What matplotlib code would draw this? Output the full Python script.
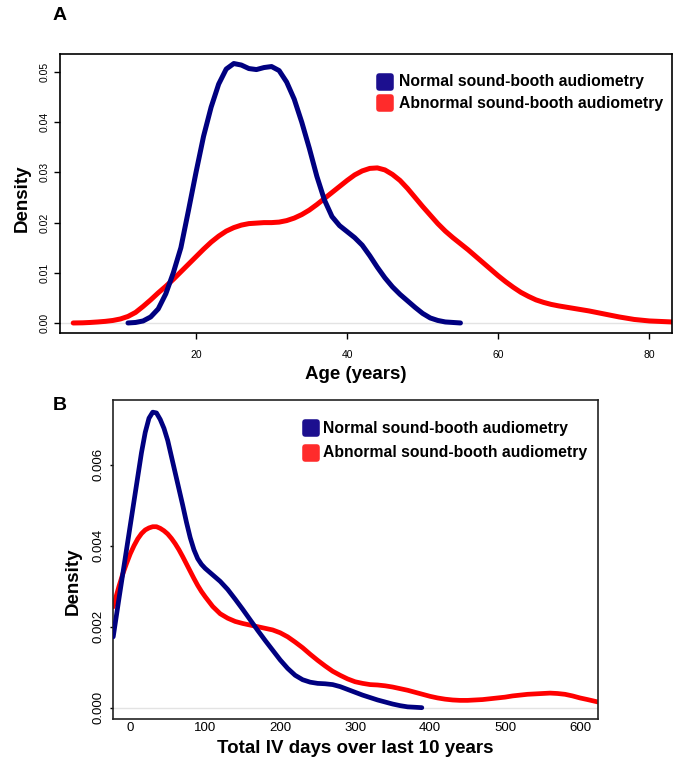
import matplotlib
matplotlib.use("Agg")
import matplotlib.pyplot as plt
from matplotlib.markers import MarkerStyle

plt.rcParams['font.family'] = ['Liberation Sans', 'DejaVu Sans']

# panel A: age density
age_normal_x = [11, 12, 13, 14, 15, 16, 17, 18, 19, 20, 21, 22, 23, 24, 25, 26, 27, 28,
                29, 30, 31, 32, 33, 34, 35, 36, 37, 38, 39, 40, 41, 42, 43, 44, 45, 46,
                47, 48, 49, 50, 51, 52, 53, 54, 55]
age_normal_y = [0.0, 0.0001, 0.0004, 0.0012, 0.0028, 0.0058, 0.0100, 0.0150, 0.0224,
                0.0300, 0.0372, 0.0430, 0.0476, 0.0506, 0.0517, 0.0514, 0.0507, 0.0505,
                0.0509, 0.0511, 0.0503, 0.0480, 0.0446, 0.0400, 0.0348, 0.0292, 0.0245,
                0.0212, 0.0194, 0.0182, 0.0170, 0.0155, 0.0134, 0.0111, 0.0090, 0.0072,
                0.0057, 0.0044, 0.0031, 0.0019, 0.0010, 0.0005, 0.0002, 0.0001, 0.0]

age_abnormal_x = [3.75, 5, 6, 7, 8, 9, 10, 11, 12, 13, 14, 15, 16, 17, 18, 19, 20, 21,
                  22, 23, 24, 25, 26, 27, 28, 29, 30, 31, 32, 33, 34, 35, 36, 37, 38,
                  39, 40, 41, 42, 43, 44, 45, 46, 47, 48, 49, 50, 51, 52, 53, 54, 55,
                  56, 57, 58, 59, 60, 61, 62, 63, 64, 65, 66, 67, 68, 70, 72, 74, 76,
                  78, 80, 83]
age_abnormal_y = [0.0, 0.00003, 0.0001, 0.0002, 0.00032, 0.0005, 0.0008, 0.0013, 0.0021,
                  0.0033, 0.0046, 0.0060, 0.0073, 0.0087, 0.0102, 0.0117, 0.0132, 0.0147,
                  0.0161, 0.0173, 0.0183, 0.0190, 0.0195, 0.0198, 0.0199, 0.0200, 0.0200,
                  0.0201, 0.0204, 0.0209, 0.0216, 0.0225, 0.0236, 0.0248, 0.0260, 0.0272,
                  0.0284, 0.0295, 0.0303, 0.0308, 0.0309, 0.0305, 0.0296, 0.0284, 0.0268,
                  0.0250, 0.0232, 0.0215, 0.0198, 0.0183, 0.0170, 0.0158, 0.0146, 0.0133,
                  0.0120, 0.0107, 0.0094, 0.0082, 0.0071, 0.0061, 0.0053, 0.0046, 0.0041,
                  0.0037, 0.0034, 0.0029, 0.0024, 0.0018, 0.0012, 0.0007, 0.0004, 0.0002]

# panel B: total IV days density
iv_normal_x = [-22.7, -15, -10, -5, 0, 5, 10, 15, 20, 25, 30, 35, 40, 45, 50, 55, 60, 65,
               70, 75, 80, 85, 90, 95, 100, 110, 120, 130, 140, 150, 160, 170, 180, 190,
               200, 210, 220, 230, 240, 250, 260, 270, 280, 290, 300, 310, 320, 330,
               340, 350, 360, 370, 380, 389]
iv_normal_y = [0.00175, 0.0027, 0.0033, 0.0039, 0.0045, 0.0051, 0.0057, 0.0063, 0.0068,
               0.00715, 0.0073, 0.00728, 0.00712, 0.0069, 0.0066, 0.0062, 0.0058, 0.0054,
               0.0050, 0.00458, 0.0042, 0.0039, 0.00368, 0.00354, 0.00344, 0.00328,
               0.00312, 0.00292, 0.00268, 0.00243, 0.00217, 0.00191, 0.00166, 0.00142,
               0.00118, 0.00097, 0.0008, 0.00069, 0.00063, 0.0006, 0.00059, 0.00057,
               0.00052, 0.00045, 0.00038, 0.00031, 0.00025, 0.00019, 0.00014, 0.00009,
               0.00005, 0.00002, 0.00001, 0.0]

iv_abnormal_x = [-22.7, -15, -10, -5, 0, 5, 10, 15, 20, 25, 30, 35, 40, 45, 50, 55, 60,
                 65, 70, 75, 80, 85, 90, 95, 100, 110, 120, 130, 140, 150, 160, 170, 180,
                 190, 200, 210, 220, 230, 240, 250, 260, 270, 280, 290, 300, 310, 320,
                 330, 340, 350, 360, 370, 380, 390, 400, 410, 420, 430, 440, 450, 460,
                 470, 480, 490, 500, 510, 520, 530, 540, 550, 560, 570, 580, 590, 600,
                 610, 624]
iv_abnormal_y = [0.00249, 0.0030, 0.0033, 0.00356, 0.0038, 0.004, 0.00417, 0.0043,
                 0.00439, 0.00444, 0.00447, 0.00447, 0.00443, 0.00437, 0.00429, 0.00418,
                 0.00405, 0.0039, 0.00373, 0.00355, 0.00337, 0.00319, 0.00302, 0.00287,
                 0.00274, 0.0025, 0.00232, 0.00221, 0.00213, 0.00208, 0.00204, 0.002,
                 0.00196, 0.00192, 0.00185, 0.00175, 0.00162, 0.00148, 0.00132, 0.00117,
                 0.00103, 0.0009, 0.0008, 0.00071, 0.00064, 0.0006, 0.00057, 0.00056,
                 0.00054, 0.00051, 0.00047, 0.00043, 0.00038, 0.00033, 0.00028, 0.00024,
                 0.00021, 0.00019, 0.00018, 0.00018, 0.00019, 0.0002, 0.00022, 0.00024,
                 0.00026, 0.00029, 0.00031, 0.00033, 0.00034, 0.00035, 0.00036, 0.00035,
                 0.00033, 0.00029, 0.00024, 0.0002, 0.00014]

legend_labels = ["Normal sound-booth audiometry", "Abnormal sound-booth audiometry"]

navy = "#000080"
red = "#ff0000"
legend_colors = ["#1c0f8f", "#ff2b2b"]


def draw_legend(ax, x, ys, tx):
    sq = MarkerStyle('s', joinstyle='round')
    for y, col, lab in zip(ys, legend_colors, legend_labels):
        ax.plot([x], [y], marker=sq, ms=8, mew=4, color=col, mec=col,
                transform=ax.transAxes, clip_on=False, linestyle='')
        ax.text(tx, y, lab, transform=ax.transAxes, fontsize=11.3,
                fontweight='bold', va='center', ha='left')


fig = plt.figure(figsize=(6.76, 7.65), dpi=100)

# ---- A ----
ax1 = fig.add_axes([60 / 676, 1 - 333 / 765, 612 / 676, 279 / 765])
ax1.axhline(0, color="#e3e3e3", lw=1, zorder=1)
ax1.plot(age_normal_x, age_normal_y, color=navy, lw=3.6, solid_capstyle='round',
         solid_joinstyle='round', zorder=3)
ax1.plot(age_abnormal_x, age_abnormal_y, color=red, lw=3.6, solid_capstyle='round',
         solid_joinstyle='round', zorder=2)
ax1.set_xlim(2, 83)
ax1.set_ylim(-0.002, 0.0536)
ax1.set_xticks([20, 40, 60, 80])
ax1.set_yticks([0, 0.01, 0.02, 0.03, 0.04, 0.05])
ax1.set_yticklabels(["0.00", "0.01", "0.02", "0.03", "0.04", "0.05"],
                    rotation=90, va='center')
ax1.tick_params(axis='both', labelsize=7.5, length=4.3, width=1, direction='out')
ax1.tick_params(axis='x', pad=8)
ax1.tick_params(axis='y', pad=3.5)
for s in ax1.spines.values():
    s.set_linewidth(1.2)
ax1.set_xlabel("Age (years)", fontsize=13.5, fontweight='bold', va='center')
ax1.xaxis.set_label_coords(0.484, -0.147)
ax1.set_ylabel("Density", fontsize=13.5, fontweight='bold', va='center')
ax1.yaxis.set_label_coords(-0.062, 0.484)
draw_legend(ax1, 0.531, [0.901, 0.824], 0.554)

# ---- B ----
ax2 = fig.add_axes([113 / 676, 1 - 719 / 765, 485 / 676, 319 / 765])
ax2.axhline(0, color="#e3e3e3", lw=1, zorder=1)
ax2.plot(iv_normal_x, iv_normal_y, color=navy, lw=3.4, solid_capstyle='round',
         solid_joinstyle='round', zorder=3)
ax2.plot(iv_abnormal_x, iv_abnormal_y, color=red, lw=3.4, solid_capstyle='round',
         solid_joinstyle='round', zorder=2)
ax2.set_xlim(-23, 624)
ax2.set_ylim(-0.00028, 0.0076)
ax2.set_xticks([0, 100, 200, 300, 400, 500, 600])
ax2.set_yticks([0, 0.002, 0.004, 0.006])
ax2.set_yticklabels(["0.000", "0.002", "0.004", "0.006"], rotation=90, va='center')
ax2.tick_params(axis='both', labelsize=9.5, width=1, direction='out')
ax2.tick_params(axis='x', length=0, pad=2.5)
ax2.tick_params(axis='y', length=2.2, pad=4)
for s in ax2.spines.values():
    s.set_linewidth(1.2)
    s.set_color("#222222")
ax2.set_xlabel("Total IV days over last 10 years", fontsize=13.5, fontweight='bold', va='center')
ax2.xaxis.set_label_coords(0.499, -0.094)
ax2.set_ylabel("Density", fontsize=13.5, fontweight='bold', va='center')
ax2.yaxis.set_label_coords(-0.082, 0.433)
draw_legend(ax2, 0.409, [0.912, 0.834], 0.433)

fig.text(60 / 676, 1 - 15 / 765, "A", fontsize=14, fontweight='bold', ha='center', va='center')
fig.text(60 / 676, 1 - 406 / 765, "B", fontsize=14, fontweight='bold', ha='center', va='center')

fig.savefig("out.png", dpi=100)
